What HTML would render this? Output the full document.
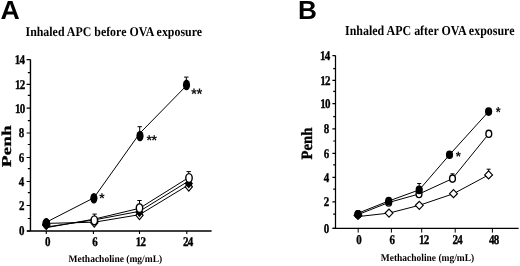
<!DOCTYPE html>
<html><head><meta charset="utf-8"><style>
html,body{margin:0;padding:0;background:#fff;width:520px;height:266px;overflow:hidden}
svg{display:block;filter:grayscale(1)} text{text-rendering:geometricPrecision}
</style></head><body>
<svg width="520" height="266" viewBox="0 0 520 266">
<rect width="520" height="266" fill="#fff"/>
<path d="M30.45 59.6V231.0M27 231.0H211.6" stroke="#000" stroke-width="1.4" fill="none"/>
<path d="M26.6 231.00H30.45M27.8 218.50H30.45M26.6 205.50H30.45M27.8 192.70H30.45M26.6 181.50H30.45M27.8 168.60H30.45M26.6 157.50H30.45M27.8 144.50H30.45M26.6 133.00H30.45M27.8 120.60H30.45M26.6 108.10H30.45M27.8 95.30H30.45M26.6 84.30H30.45M27.8 72.60H30.45M26.6 59.60H30.45" stroke="#000" stroke-width="1.2" fill="none"/>
<path d="M46.3 231.0V233.9M93.4 231.0V233.9M139.5 231.0V233.9M186.8 231.0V233.9" stroke="#000" stroke-width="1.1" fill="none"/>
<text transform="translate(18.95,235.4) scale(0.82,1.0)" font-family="Liberation Serif, serif" font-weight="bold" font-size="13.4" text-anchor="start" letter-spacing="-0.9" stroke="#000" stroke-width="0.35">0</text>
<text transform="translate(18.95,209.9) scale(0.82,1.0)" font-family="Liberation Serif, serif" font-weight="bold" font-size="13.4" text-anchor="start" letter-spacing="-0.9" stroke="#000" stroke-width="0.35">2</text>
<text transform="translate(18.73,185.9) scale(0.82,1.0)" font-family="Liberation Serif, serif" font-weight="bold" font-size="13.4" text-anchor="start" letter-spacing="-0.9" stroke="#000" stroke-width="0.35">4</text>
<text transform="translate(18.84,161.9) scale(0.82,1.0)" font-family="Liberation Serif, serif" font-weight="bold" font-size="13.4" text-anchor="start" letter-spacing="-0.9" stroke="#000" stroke-width="0.35">6</text>
<text transform="translate(18.84,137.4) scale(0.82,1.0)" font-family="Liberation Serif, serif" font-weight="bold" font-size="13.4" text-anchor="start" letter-spacing="-0.9" stroke="#000" stroke-width="0.35">8</text>
<text transform="translate(15.04,112.5) scale(0.82,1.0)" font-family="Liberation Serif, serif" font-weight="bold" font-size="13.4" text-anchor="start" letter-spacing="-0.9" stroke="#000" stroke-width="0.35">10</text>
<text transform="translate(15.04,88.7) scale(0.82,1.0)" font-family="Liberation Serif, serif" font-weight="bold" font-size="13.4" text-anchor="start" letter-spacing="-0.9" stroke="#000" stroke-width="0.35">12</text>
<text transform="translate(14.82,64.0) scale(0.82,1.0)" font-family="Liberation Serif, serif" font-weight="bold" font-size="13.4" text-anchor="start" letter-spacing="-0.9" stroke="#000" stroke-width="0.35">14</text>
<text transform="translate(45.05,245.65) scale(0.82,1.0)" font-family="Liberation Serif, serif" font-weight="bold" font-size="13.4" text-anchor="start" letter-spacing="-0.9" stroke="#000" stroke-width="0.35">0</text>
<text transform="translate(92.3,245.65) scale(0.82,1.0)" font-family="Liberation Serif, serif" font-weight="bold" font-size="13.4" text-anchor="start" letter-spacing="-0.9" stroke="#000" stroke-width="0.35">6</text>
<text transform="translate(135.76,245.65) scale(0.82,1.0)" font-family="Liberation Serif, serif" font-weight="bold" font-size="13.4" text-anchor="start" letter-spacing="-0.9" stroke="#000" stroke-width="0.35">12</text>
<text transform="translate(182.92,245.65) scale(0.82,1.0)" font-family="Liberation Serif, serif" font-weight="bold" font-size="13.4" text-anchor="start" letter-spacing="-0.9" stroke="#000" stroke-width="0.35">24</text>
<text transform="translate(68.5,262.2) scale(0.95,1.0)" font-family="Liberation Serif, serif" font-weight="bold" font-size="10" text-anchor="start">Methacholine (mg/mL)</text>
<text transform="translate(10.9,167.3) rotate(-90) scale(1.0,0.7)" font-family="Liberation Serif, serif" font-weight="bold" font-size="19.4" text-anchor="start" stroke="#000" stroke-width="0.4">Penh</text>
<text transform="translate(25.5,35.75) scale(0.8948,1.0)" font-family="Liberation Serif, serif" font-weight="bold" font-size="13.3" text-anchor="start">Inhaled APC before OVA exposure</text>
<text transform="translate(0.5,18.75) scale(1.02,1)" font-family="Liberation Sans, sans-serif" font-weight="bold" font-size="26.2" text-anchor="start">A</text>
<polyline points="46.3,223.4 94.3,222.2 139.5,214.7 188.7,184.8" fill="none" stroke="#000" stroke-width="1"/>
<polyline points="46.3,227.0 94.3,219.9 139.5,211.3 188.7,181" fill="none" stroke="#000" stroke-width="1"/>
<polyline points="46.3,227.7 94.3,219.1 139.5,208.3 188.8,177.5" fill="none" stroke="#000" stroke-width="1"/>
<polyline points="46.3,222.2 93.9,197.8 139.7,133.4 186.6,85.5" fill="none" stroke="#000" stroke-width="1"/>
<path d="M139.7 126.7V132M137.5 126.7H141.89999999999998" stroke="#000" stroke-width="1" fill="none"/>
<path d="M186.3 77.1V82M184.10000000000002 77.1H188.5" stroke="#000" stroke-width="1" fill="none"/>
<path d="M94.6 214.1V216M92.39999999999999 214.1H96.8" stroke="#000" stroke-width="1" fill="none"/>
<path d="M139.5 200.5V204M137.3 200.5H141.7" stroke="#000" stroke-width="1" fill="none"/>
<path d="M188.7 171.6V174M186.5 171.6H190.89999999999998" stroke="#000" stroke-width="1" fill="none"/>
<path d="M46.3 220.7L49.9 225L46.3 229.3L42.699999999999996 225Z" fill="#fff" stroke="#000" stroke-width="1.2"/>
<path d="M94.3 218.5L97.89999999999999 222.8L94.3 227.10000000000002L90.7 222.8Z" fill="#fff" stroke="#000" stroke-width="1.2"/>
<path d="M139.5 211.0L143.1 215.3L139.5 219.60000000000002L135.9 215.3Z" fill="#fff" stroke="#000" stroke-width="1.2"/>
<path d="M188.8 182.5L192.4 186.8L188.8 191.10000000000002L185.20000000000002 186.8Z" fill="#fff" stroke="#000" stroke-width="1.2"/>
<path d="M46.3 220.1L50.5 225L46.3 229.9L42.099999999999994 225Z" fill="#000"/>
<path d="M94.3 215.4L98.5 220.3L94.3 225.20000000000002L90.1 220.3Z" fill="#000"/>
<path d="M139.5 207.4L143.7 212.3L139.5 217.20000000000002L135.3 212.3Z" fill="#000"/>
<path d="M188.8 178.6L193.0 183.5L188.8 188.4L184.60000000000002 183.5Z" fill="#000"/>
<ellipse cx="46.3" cy="223.4" rx="3.2" ry="4.3999999999999995" fill="#fff" stroke="#000" stroke-width="1.4"/>
<ellipse cx="94.3" cy="220.3" rx="3.2" ry="4.3999999999999995" fill="#fff" stroke="#000" stroke-width="1.4"/>
<ellipse cx="139.5" cy="208.1" rx="3.2" ry="4.3999999999999995" fill="#fff" stroke="#000" stroke-width="1.4"/>
<ellipse cx="189" cy="178" rx="3.2" ry="4.3999999999999995" fill="#fff" stroke="#000" stroke-width="1.4"/>
<ellipse cx="46.3" cy="223.4" rx="3.6" ry="5.3" fill="#000"/>
<ellipse cx="93.9" cy="198.2" rx="3.6" ry="5.3" fill="#000"/>
<ellipse cx="140" cy="136" rx="3.6" ry="5.3" fill="#000"/>
<ellipse cx="186.5" cy="84.9" rx="3.6" ry="5.3" fill="#000"/>
<text transform="translate(101.8,203.30) scale(0.974,1)" font-family="Liberation Sans, sans-serif" font-weight="bold" font-size="14.05" text-anchor="middle" fill="#111">*</text>
<text transform="translate(149.2,145.40) scale(0.992,1)" font-family="Liberation Sans, sans-serif" font-weight="bold" font-size="14.05" text-anchor="middle" fill="#111">*</text>
<text transform="translate(154.3,145.40) scale(0.992,1)" font-family="Liberation Sans, sans-serif" font-weight="bold" font-size="14.05" text-anchor="middle" fill="#111">*</text>
<text transform="translate(194.0,98.74) scale(0.922,1)" font-family="Liberation Sans, sans-serif" font-weight="bold" font-size="15.14" text-anchor="middle" fill="#111">*</text>
<text transform="translate(199.4,98.74) scale(0.922,1)" font-family="Liberation Sans, sans-serif" font-weight="bold" font-size="15.14" text-anchor="middle" fill="#111">*</text>
<path d="M335.5 55.6V228.4M332.8 228.4H518.6" stroke="#000" stroke-width="1.25" fill="none"/>
<path d="M332.4 228.40H335.5M333.2 214.20H335.5M332.4 201.90H335.5M333.2 189.20H335.5M332.4 177.40H335.5M333.2 164.80H335.5M332.4 153.30H335.5M333.2 141.00H335.5M332.4 128.90H335.5M333.2 116.60H335.5M332.4 103.60H335.5M333.2 91.40H335.5M332.4 80.30H335.5M333.2 68.60H335.5M332.4 55.60H335.5" stroke="#000" stroke-width="1.2" fill="none"/>
<path d="M358.2 228.4V232.6M391.4 228.4V232.6M421.7 228.4V232.6M455.2 228.4V232.6M492.4 228.4V232.6" stroke="#000" stroke-width="1.0" fill="none"/>
<text transform="translate(323.85,232.8) scale(0.82,1.0)" font-family="Liberation Serif, serif" font-weight="bold" font-size="13.4" text-anchor="start" letter-spacing="-0.9" stroke="#000" stroke-width="0.35">0</text>
<text transform="translate(323.85,206.3) scale(0.82,1.0)" font-family="Liberation Serif, serif" font-weight="bold" font-size="13.4" text-anchor="start" letter-spacing="-0.9" stroke="#000" stroke-width="0.35">2</text>
<text transform="translate(323.63,181.8) scale(0.82,1.0)" font-family="Liberation Serif, serif" font-weight="bold" font-size="13.4" text-anchor="start" letter-spacing="-0.9" stroke="#000" stroke-width="0.35">4</text>
<text transform="translate(323.74,157.7) scale(0.82,1.0)" font-family="Liberation Serif, serif" font-weight="bold" font-size="13.4" text-anchor="start" letter-spacing="-0.9" stroke="#000" stroke-width="0.35">6</text>
<text transform="translate(323.74,133.3) scale(0.82,1.0)" font-family="Liberation Serif, serif" font-weight="bold" font-size="13.4" text-anchor="start" letter-spacing="-0.9" stroke="#000" stroke-width="0.35">8</text>
<text transform="translate(320.29,108.0) scale(0.82,1.0)" font-family="Liberation Serif, serif" font-weight="bold" font-size="13.4" text-anchor="start" letter-spacing="-0.9" stroke="#000" stroke-width="0.35">10</text>
<text transform="translate(320.29,84.7) scale(0.82,1.0)" font-family="Liberation Serif, serif" font-weight="bold" font-size="13.4" text-anchor="start" letter-spacing="-0.9" stroke="#000" stroke-width="0.35">12</text>
<text transform="translate(320.07,60.0) scale(0.82,1.0)" font-family="Liberation Serif, serif" font-weight="bold" font-size="13.4" text-anchor="start" letter-spacing="-0.9" stroke="#000" stroke-width="0.35">14</text>
<text transform="translate(356.25,243.5) scale(0.82,1.0)" font-family="Liberation Serif, serif" font-weight="bold" font-size="13.4" text-anchor="start" letter-spacing="-0.9" stroke="#000" stroke-width="0.35">0</text>
<text transform="translate(389.45,243.5) scale(0.82,1.0)" font-family="Liberation Serif, serif" font-weight="bold" font-size="13.4" text-anchor="start" letter-spacing="-0.9" stroke="#000" stroke-width="0.35">6</text>
<text transform="translate(419.11,243.5) scale(0.82,1.0)" font-family="Liberation Serif, serif" font-weight="bold" font-size="13.4" text-anchor="start" letter-spacing="-0.9" stroke="#000" stroke-width="0.35">12</text>
<text transform="translate(452.57,243.5) scale(0.82,1.0)" font-family="Liberation Serif, serif" font-weight="bold" font-size="13.4" text-anchor="start" letter-spacing="-0.9" stroke="#000" stroke-width="0.35">24</text>
<text transform="translate(488.98,243.5) scale(0.82,1.0)" font-family="Liberation Serif, serif" font-weight="bold" font-size="13.4" text-anchor="start" letter-spacing="-0.9" stroke="#000" stroke-width="0.35">48</text>
<text transform="translate(380.8,260.5) scale(0.92,1.0)" font-family="Liberation Serif, serif" font-weight="bold" font-size="10.3" text-anchor="start">Methacholine (mg/mL)</text>
<text transform="translate(311.8,159.6) rotate(-90) scale(1.0,1.06)" font-family="Liberation Serif, serif" font-weight="bold" font-size="14.8" text-anchor="start" stroke="#000" stroke-width="0.35">Penh</text>
<text transform="translate(345.0,34.6) scale(0.88,1.0)" font-family="Liberation Serif, serif" font-weight="bold" font-size="13.6" text-anchor="start">Inhaled APC after OVA exposure</text>
<text transform="translate(298.1,18.75) scale(1.0,1)" font-family="Liberation Sans, sans-serif" font-weight="bold" font-size="26.2" text-anchor="start">B</text>
<polyline points="358,216.6 389,213.1 419.3,205.3 453.5,193.7 488.6,174.9" fill="none" stroke="#000" stroke-width="1"/>
<polyline points="358,214.6 388.7,202.5 419,194 452.5,178.6 488.8,133.8" fill="none" stroke="#000" stroke-width="1"/>
<polyline points="358,213.2 388.7,201 419.2,189.9 449.5,154.8 488.6,111.6" fill="none" stroke="#000" stroke-width="1"/>
<path d="M419.2 183.5V187M417.2 183.5H421.2" stroke="#000" stroke-width="1" fill="none"/>
<path d="M452.5 173.8V176M450.5 173.8H454.5" stroke="#000" stroke-width="1" fill="none"/>
<path d="M488.6 169.2V172M486.6 169.2H490.6" stroke="#000" stroke-width="1" fill="none"/>
<path d="M358 211.3L361.9 215.3L358 219.3L354.1 215.3Z" fill="#fff" stroke="#000" stroke-width="1.2"/>
<path d="M389 209.1L392.9 213.1L389 217.1L385.1 213.1Z" fill="#fff" stroke="#000" stroke-width="1.2"/>
<path d="M419.3 201.3L423.2 205.3L419.3 209.3L415.40000000000003 205.3Z" fill="#fff" stroke="#000" stroke-width="1.2"/>
<path d="M453.5 189.7L457.4 193.7L453.5 197.7L449.6 193.7Z" fill="#fff" stroke="#000" stroke-width="1.2"/>
<path d="M488.6 170.9L492.5 174.9L488.6 178.9L484.70000000000005 174.9Z" fill="#fff" stroke="#000" stroke-width="1.2"/>
<ellipse cx="358" cy="214.2" rx="2.9000000000000004" ry="3.5999999999999996" fill="#fff" stroke="#000" stroke-width="1.4"/>
<ellipse cx="388.7" cy="202.5" rx="2.9000000000000004" ry="3.5999999999999996" fill="#fff" stroke="#000" stroke-width="1.4"/>
<ellipse cx="419" cy="194" rx="2.9000000000000004" ry="3.5999999999999996" fill="#fff" stroke="#000" stroke-width="1.4"/>
<ellipse cx="452.5" cy="178.6" rx="2.9000000000000004" ry="3.5999999999999996" fill="#fff" stroke="#000" stroke-width="1.4"/>
<ellipse cx="488.8" cy="133.8" rx="2.9000000000000004" ry="3.5999999999999996" fill="#fff" stroke="#000" stroke-width="1.4"/>
<ellipse cx="358" cy="214.2" rx="3.6" ry="4.3" fill="#000"/>
<ellipse cx="388.7" cy="201" rx="3.6" ry="4.3" fill="#000"/>
<ellipse cx="419.2" cy="189.9" rx="3.6" ry="4.3" fill="#000"/>
<ellipse cx="449.5" cy="154.8" rx="3.6" ry="4.3" fill="#000"/>
<ellipse cx="488.6" cy="111.6" rx="3.6" ry="4.3" fill="#000"/>
<text transform="translate(458.3,161.02) scale(0.974,1)" font-family="Liberation Sans, sans-serif" font-weight="bold" font-size="13.51" text-anchor="middle" fill="#111">*</text>
<text transform="translate(498.3,116.87) scale(0.865,1)" font-family="Liberation Sans, sans-serif" font-weight="bold" font-size="14.59" text-anchor="middle" fill="#111">*</text>
</svg>
</body></html>
